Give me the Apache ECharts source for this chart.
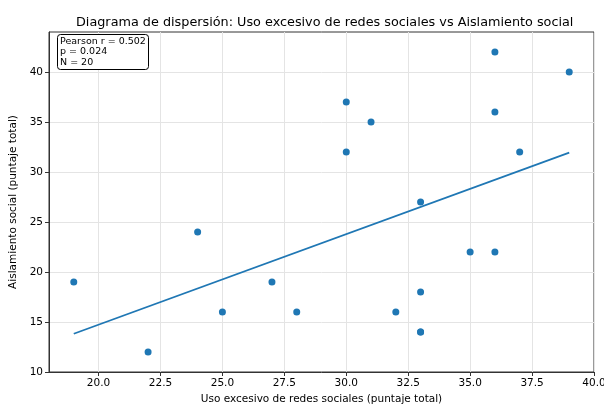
<!DOCTYPE html>
<html>
<head>
<meta charset="utf-8">
<script src="https://cdn.jsdelivr.net/npm/echarts@6/dist/echarts.min.js"></script>
<style>html,body{margin:0;padding:0;background:#fff}#c{width:604px;height:405px}</style>
</head>
<body>
<div id="c"></div>
<script>
var usoRedes = [19, 22, 24, 25, 27, 28, 30, 30, 31, 32, 33, 33, 33, 33, 35, 36, 36, 36, 37, 39];
var aislamiento = [19, 12, 24, 16, 19, 16, 37, 32, 35, 16, 27, 18, 14, 14, 22, 42, 36, 22, 32, 40];
var xTicks = [20, 22.5, 25, 27.5, 30, 32.5, 35, 37.5, 40];
var yTicks = [10, 15, 20, 25, 30, 35, 40];
var titleText = 'Diagrama de dispersión: Uso excesivo de redes sociales vs Aislamiento social';
var statsText = 'Pearson r = 0.502\np = 0.024\nN = 20';
var xName = 'Uso excesivo de redes sociales (puntaje total)';
var yName = 'Aislamiento social (puntaje total)';

var n = usoRedes.length;
var mx = usoRedes.reduce(function(a,b){return a+b;},0)/n;
var my = aislamiento.reduce(function(a,b){return a+b;},0)/n;
var sxx = 0, sxy = 0;
for (var i=0;i<n;i++){ sxx += (usoRedes[i]-mx)*(usoRedes[i]-mx); sxy += (usoRedes[i]-mx)*(aislamiento[i]-my); }
var slope = sxy/sxx, icpt = my - slope*mx;
var xmin = Math.min.apply(null, usoRedes), xmax = Math.max.apply(null, usoRedes);
var fitLine = [[xmin, icpt+slope*xmin],[xmax, icpt+slope*xmax]];
var pts = usoRedes.map(function(x,i){return [x, aislamiento[i]];});

var font = 'DejaVu Sans';
var chart = echarts.init(document.getElementById('c'), null, {renderer:'canvas'});
chart.setOption({
  animation:false,
  textStyle:{fontFamily:font},
  title:[{
    text:titleText, left:71, top:11,
    textStyle:{fontFamily:font, fontSize:12.8, fontWeight:'normal', color:'#000'}
  },{
    text:statsText, left:57, top:34,
    padding:[2,3,2,3],
    borderColor:'#000', borderWidth:1, borderRadius:3, backgroundColor:'#fff',
    textStyle:{fontFamily:font, fontSize:9.5, fontWeight:'normal', color:'#000', lineHeight:10.5}
  }],
  grid:{left:49, right:10, top:32, bottom:33, containLabel:false, outerBoundsMode:'none',
    show:true, borderColor:'#333', borderWidth:1},
  xAxis:{
    type:'value', min:18, max:40,
    name:xName, nameLocation:'middle', nameGap:22,
    nameTextStyle:{fontFamily:font, fontSize:10.5, color:'#000'},
    axisLine:{show:true, lineStyle:{color:'#333', width:1}},
    axisTick:{show:true, length:4, customValues:xTicks, lineStyle:{color:'#333'}},
    axisLabel:{customValues:xTicks, fontFamily:font, fontSize:10.5, color:'#000', margin:6,
      formatter:function(v){return v.toFixed(1);}},
    splitLine:{show:true, lineStyle:{color:'#e4e4e4', width:1}}
  },
  yAxis:{
    type:'value', min:10, max:44,
    name:yName, nameLocation:'middle', nameGap:22, nameRotate:90,
    nameTextStyle:{fontFamily:font, fontSize:10.5, color:'#000'},
    axisLine:{show:true, lineStyle:{color:'#333', width:1}},
    axisTick:{show:true, length:4, customValues:yTicks, lineStyle:{color:'#333'}},
    axisLabel:{customValues:yTicks, fontFamily:font, fontSize:10.5, color:'#000', margin:6},
    splitLine:{show:true, lineStyle:{color:'#e4e4e4', width:1}}
  },
  series:[{
    type:'scatter', data:pts, symbolSize:7,
    itemStyle:{color:'#1f77b4', opacity:1}
  },{
    type:'line', data:fitLine, symbol:'none',
    lineStyle:{color:'#1f77b4', width:1.8}
  }]
});
</script>
</body>
</html>
